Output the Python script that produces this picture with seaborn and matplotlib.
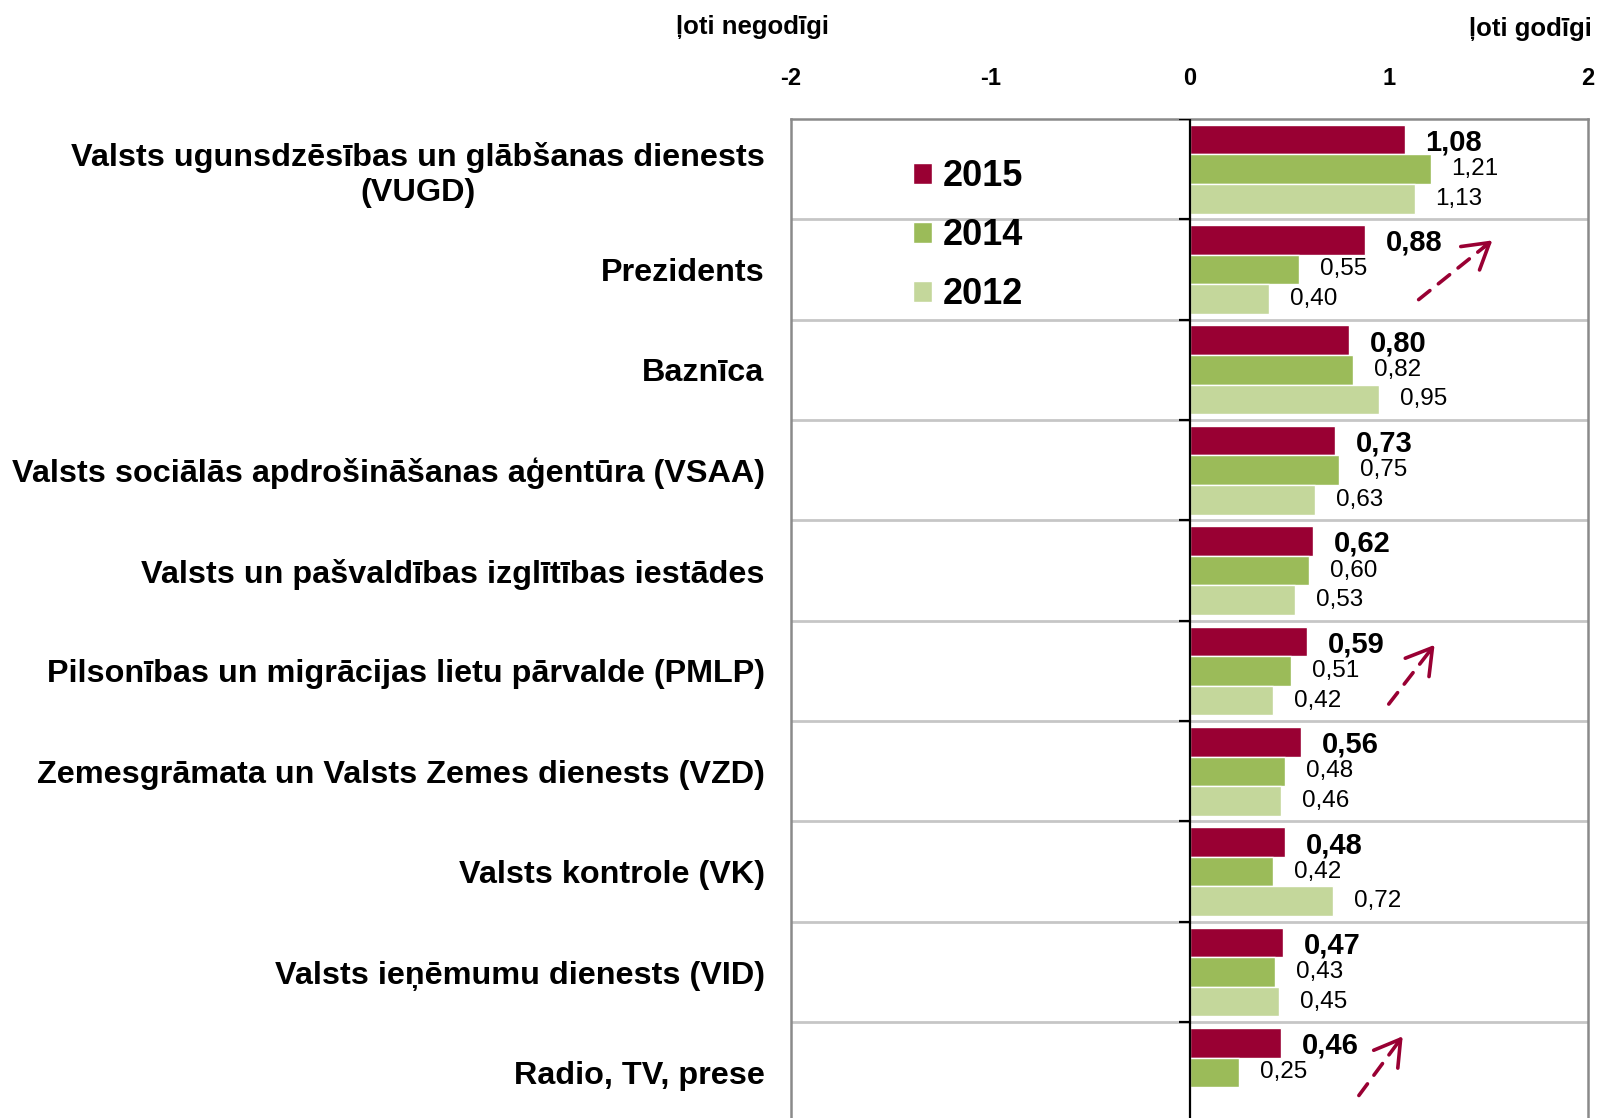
import numpy as np
import pandas as pd
import matplotlib
matplotlib.use('Agg')
import matplotlib.pyplot as plt
import seaborn as sns

# --- data ---
iestades = ['Valsts ugunsdzēsības un glābšanas dienests\n(VUGD)',
            'Prezidents',
            'Baznīca',
            'Valsts sociālās apdrošināšanas aģentūra (VSAA)',
            'Valsts un pašvaldības izglītības iestādes',
            'Pilsonības un migrācijas lietu pārvalde (PMLP)',
            'Zemesgrāmata un Valsts Zemes dienests (VZD)',
            'Valsts kontrole (VK)',
            'Valsts ieņēmumu dienests (VID)',
            'Radio, TV, prese']
gadi = ['2015', '2014', '2012']
v2015 = [1.08, 0.88, 0.80, 0.73, 0.62, 0.59, 0.56, 0.48, 0.47, 0.46]
v2014 = [1.21, 0.55, 0.82, 0.75, 0.60, 0.51, 0.48, 0.42, 0.43, 0.25]
v2012 = [1.13, 0.40, 0.95, 0.63, 0.53, 0.42, 0.46, 0.72, 0.45, np.nan]
krasas = ['#990033', '#9BBB59', '#C4D79B']
xticks = [-2, -1, 0, 1, 2]
xtick_labels = ['-2', '-1', '0', '1', '2']

# arrows (start -> end) drawn on the chart, in data units
bultas = [((1.15, 1.30), (1.52, 0.71)),
          ((1.00, 5.33), (1.23, 4.74)),
          ((0.85, 9.23), (1.07, 8.64))]

rows = []
for g, vals in zip(gadi, [v2015, v2014, v2012]):
    for c, v in zip(iestades, vals):
        rows.append({'iestade': c, 'gads': g, 'vertiba': v})
df = pd.DataFrame(rows).dropna()

sns.set_style('white')
plt.rcParams['font.family'] = ['Liberation Sans', 'DejaVu Sans']
plt.rcParams['axes.unicode_minus'] = False
plt.rcParams['text.color'] = 'black'
plt.rcParams['xtick.color'] = 'black'
plt.rcParams['ytick.color'] = 'black'

fig = plt.figure(figsize=(15.99, 11.18), dpi=100)
ax = fig.add_axes([791 / 1599, -0.0041, 797 / 1599, 0.8977])

sns.barplot(data=df, x='vertiba', y='iestade', hue='gads', order=iestades,
            hue_order=gadi, palette=krasas, orient='h', width=0.885,
            saturation=1, errorbar=None, ax=ax)

n = len(iestades)
ax.set_xlim(-2, 2)
ax.set_ylim(n - 0.5, -0.5)
ax.set_xlabel('')
ax.set_ylabel('')

# value labels
for i, cont in enumerate(ax.containers):
    labels = [f'{v:.2f}'.replace('.', ',') for v in cont.datavalues]
    if i == 0:
        txt = ax.bar_label(cont, labels=labels, padding=15, fontsize=21,
                           fontweight='bold', color='black')
        for t in txt:
            t.set_y(t.get_position()[1])
            t.set_va('center_baseline')
    else:
        ax.bar_label(cont, labels=labels, padding=15, fontsize=17.5,
                     color='black')

# x axis on top
ax.xaxis.tick_top()
ax.set_xticks(xticks)
ax.set_xticklabels(xtick_labels, fontsize=17, fontweight='bold')
ax.tick_params(axis='x', length=0, pad=21)

# category labels
ax.set_yticks(range(n))
ax.set_yticklabels(iestades, fontsize=23.3, fontweight='bold')
for t in ax.get_yticklabels():
    t.set_multialignment('center')
ax.tick_params(axis='y', length=0, pad=19)

# separators between categories
grani = np.arange(n) + 0.5
ax.set_yticks(grani, minor=True)
ax.tick_params(axis='y', which='minor', length=0)
ax.grid(axis='y', which='minor', color='#c6c6c6', lw=2)
ax.grid(axis='y', which='major', visible=False)
ax.grid(axis='x', visible=False)
ax.set_axisbelow(True)

# category axis at zero
ax.axvline(0, color='black', lw=1.6, zorder=3)
ax.hlines(np.arange(n + 1) - 0.5, -0.055, 0, color='black', lw=1.6, zorder=3)

for side in ['left', 'top', 'right']:
    ax.spines[side].set_color('#8a8a8a')
    ax.spines[side].set_linewidth(1.8)
ax.spines['bottom'].set_visible(False)

# legend
h, l = ax.get_legend_handles_labels()
ax.legend(h, l, loc='upper left', bbox_to_anchor=(0.153, 0.96),
          frameon=False, prop={'weight': 'bold', 'size': 26},
          handlelength=0.53, handleheight=0.53, handletextpad=0.3,
          labelspacing=0.67, borderpad=0, borderaxespad=0)

# dashed arrows
for (x0, y0), (x1, y1) in bultas:
    ax.annotate('', xy=(x1, y1), xytext=(x0, y0),
                arrowprops=dict(arrowstyle='-', color='#990033', lw=2.6,
                                linestyle=(0, (4, 3)), shrinkA=0, shrinkB=2))
    xm = x1 - (x1 - x0) * 0.12
    ym = y1 - (y1 - y0) * 0.12
    ax.annotate('', xy=(x1, y1), xytext=(xm, ym),
                arrowprops=dict(arrowstyle='->,head_length=0.5,head_width=0.3',
                                color='#990033', lw=2.6, mutation_scale=36,
                                shrinkA=0, shrinkB=0))

fig.text(753 / 1599, 1 - 27 / 1118, 'ļoti negodīgi', ha='center', va='center',
         fontsize=18.5, fontweight='bold')
fig.text(1530 / 1599, 1 - 29 / 1118, 'ļoti godīgi', ha='center', va='center',
         fontsize=18.5, fontweight='bold')

fig.savefig('out.png', dpi=100)
